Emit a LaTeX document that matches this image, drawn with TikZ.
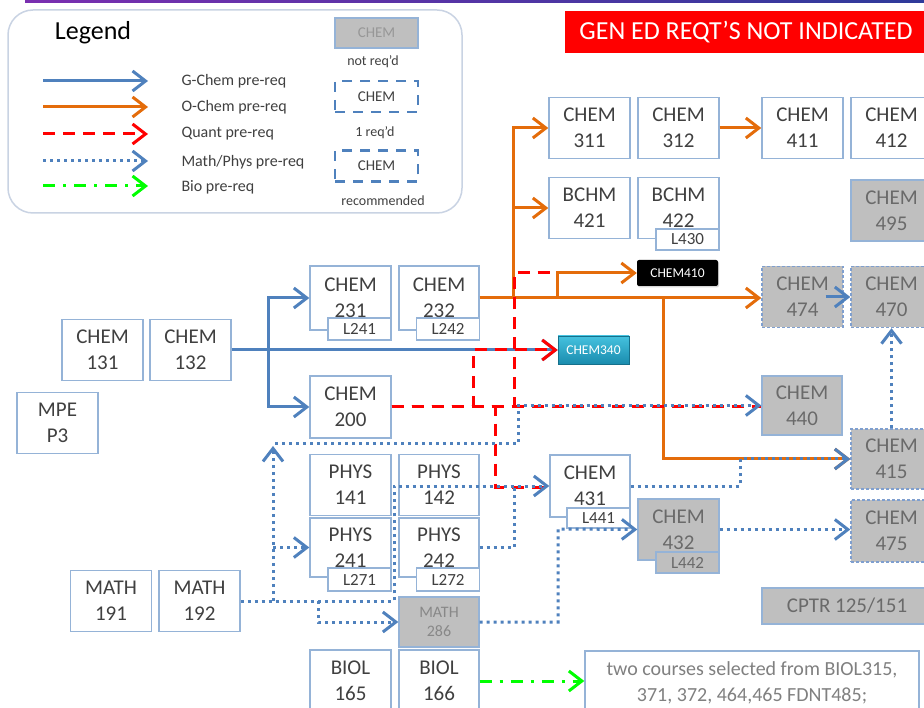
\documentclass[tikz,border=0pt]{standalone}
\usepackage{fontspec}
\setmainfont{Carlito}
\usetikzlibrary{arrows.meta,calc,shadows}
\definecolor{bluec}{HTML}{4F81BD}
\definecolor{boxb}{HTML}{95B3D7}
\definecolor{dashb}{HTML}{7F9FCF}
\definecolor{orangec}{HTML}{E46C0A}
\definecolor{txt}{HTML}{404040}
\definecolor{greyf}{HTML}{BFBFBF}
\definecolor{greyt}{HTML}{6A6A6A}
\definecolor{greenc}{HTML}{00FF00}
\definecolor{legb}{HTML}{C9D3E3}
\definecolor{tealA}{HTML}{45C2DF}
\definecolor{tealB}{HTML}{1A8CAE}
\definecolor{purpA}{HTML}{7A2FB0}
\definecolor{purpB}{HTML}{2E3A9A}
\tikzset{
  cbox/.style={draw=boxb, line width=1.4pt, fill=white, minimum width=81pt, minimum height=61pt,
    inner sep=0pt, align=center, text=txt, font=\fontsize{21}{26}\selectfont},
  gbox/.style={cbox, fill=greyf, text=greyt},
  gdbox/.style={gbox, draw=dashb, dash pattern=on 3pt off 2pt},
  gsub/.style={subbox, fill=greyf, text=greyt},
  subbox/.style={draw=boxb, line width=1.2pt, fill=white, minimum width=63pt, minimum height=22pt,
    inner sep=0pt, text=txt, font=\fontsize{17}{18}\selectfont},
  tip/.style={-{Straight Barb[length=13pt,width=20pt]}},
  gchem/.style={draw=bluec, line width=3pt},
  ochem/.style={draw=orangec, line width=3pt},
  quant/.style={draw=red, line width=3pt, dash pattern=on 12pt off 8pt},
  mphys/.style={draw=bluec, line width=3pt, dash pattern=on 3pt off 4pt},
  bio/.style={draw=greenc, line width=3pt, dash pattern=on 12pt off 8pt on 3pt off 8pt},
  legtxt/.style={anchor=west, text=txt, font=\fontsize{16}{18}\selectfont},
  smalltxt/.style={text=txt, font=\fontsize{14}{16}\selectfont},
  legdash/.style={draw=bluec, line width=2.5pt, dash pattern=on 10pt off 8pt, minimum width=83pt,
    minimum height=31pt, text=txt, font=\fontsize{15}{16}\selectfont},
}
\begin{document}
\begin{tikzpicture}[x=1pt,y=-1pt]
\useasboundingbox (0,0) rectangle (924,708);
\fill[white] (0,0) rectangle (924,708);
% top line
\shade[left color=purpA, right color=purpB] (25,0.3) rectangle (924,3);
% banner
\node[fill=red, text=white, font=\fontsize{26}{28}\selectfont, minimum width=362pt, minimum height=42pt, inner sep=0pt] (banner) at (746,32) {GEN ED REQT’S NOT INDICATED};
% legend
\node[draw=legb, line width=1.5pt, rounded corners=25pt, minimum width=454pt, minimum height=203pt] (legend) at (235,111.5) {};
\node[text=black, font=\fontsize{26}{28}\selectfont] (legt) at (93,33) {Legend};
\node[legtxt] (lt1) at (178,81) {G-Chem pre-req};
\node[legtxt] (lt2) at (178,107) {O-Chem pre-req};
\node[legtxt] (lt3) at (178,134) {Quant pre-req};
\node[legtxt] (lt4) at (178,162) {Math/Phys pre-req};
\node[legtxt] (lt5) at (178,187) {Bio pre-req};
\coordinate (la1) at (43,81);  \coordinate (lb1) at (148,81);
\coordinate (la2) at (43,107); \coordinate (lb2) at (148,107);
\coordinate (la3) at (43,134); \coordinate (lb3) at (148,134);
\coordinate (la4) at (43,161); \coordinate (lb4) at (148,161);
\coordinate (la5) at (43,186); \coordinate (lb5) at (148,186);
\draw[gchem,tip] (la1) -- (lb1);
\draw[ochem,tip] (la2) -- (lb2);
\draw[quant,tip] (la3) -- (lb3);
\draw[mphys,tip] (la4) -- (lb4);
\draw[bio,tip] (la5) -- (lb5);
\node[gbox, minimum width=83pt, minimum height=30pt, font=\fontsize{15}{16}\selectfont, text=greyt!70] (lg1) at (376.5,33) {CHEM};
\node[smalltxt] (lg1t) at (373,62) {not req’d};
\node[legdash] (lg2) at (376.5,96.5) {CHEM};
\node[smalltxt] (lg2t) at (375,133) {1 req’d};
\node[legdash] (lg3) at (376.5,166) {CHEM};
\node[smalltxt] (lg3t) at (383,201) {recommended};
% boxes left
\node[cbox] (c131) at (102.5,350) {CHEM\\131};
\node[cbox] (c132) at (190.5,350) {CHEM\\132};
\node[cbox] (mpe) at (57.5,423) {MPE\\P3};
\node[cbox] (m191) at (111,601) {MATH\\191};
\node[cbox] (m192) at (199.5,601) {MATH\\192};
% middle column
\node[cbox, minimum height=64pt] (c231) at (350.5,298) {CHEM\\231};
\node[cbox, minimum width=80pt, minimum height=64pt] (c232) at (439,298) {CHEM\\232};
\node[cbox, minimum height=62pt] (c200) at (350.5,407) {CHEM\\200};
\node[cbox] (p141) at (350.5,485) {PHYS\\141};
\node[cbox, minimum width=80pt] (p142) at (439,485) {PHYS\\142};
\node[cbox, minimum height=59pt] (p241) at (350.5,547.5) {PHYS\\241};
\node[cbox, minimum width=80pt, minimum height=59pt] (p242) at (439,547.5) {PHYS\\242};
\node[gbox, minimum width=80pt, minimum height=50pt, font=\fontsize{16}{19}\selectfont, text=greyt!80] (m286) at (439,622) {MATH\\286};
\node[cbox, minimum height=62pt] (b165) at (350.5,681) {BIOL\\165};
\node[cbox, minimum width=80pt, minimum height=62pt] (b166) at (439,681) {BIOL\\166};
% right area
\node[cbox] (c311) at (589.5,128) {CHEM\\311};
\node[cbox] (c312) at (678.5,128) {CHEM\\312};
\node[cbox] (c411) at (802.5,128) {CHEM\\411};
\node[cbox] (c412) at (891.5,128) {CHEM\\412};
\node[cbox] (b421) at (589.5,208) {BCHM\\421};
\node[cbox] (b422) at (678.5,208) {BCHM\\422};
\node[gbox] (c495) at (891.5,210.5) {CHEM\\495};
\node[gdbox] (c474) at (802.5,297) {CHEM\\474};
\node[gdbox] (c470) at (891.5,297) {CHEM\\470};
\node[gbox, minimum width=80pt, minimum height=59pt] (c440) at (802,405.5) {CHEM\\440};
\node[gdbox, minimum height=60pt] (c415) at (891.5,459) {CHEM\\415};
\node[cbox, minimum width=80pt, minimum height=62pt] (c431) at (590,486) {CHEM\\431};
\node[gbox] (c432) at (678.5,529.5) {CHEM\\432};
\node[gdbox, minimum height=62pt] (c475) at (891.5,531) {CHEM\\475};
\node[gbox, minimum width=170pt, minimum height=36pt, font=\fontsize{21}{22}\selectfont] (cptr) at (847,606) {CPTR 125/151};
\node[cbox, minimum width=334pt, minimum height=64pt, text=gray, font=\fontsize{20}{26}\selectfont] (two) at (752,683) {two courses selected from BIOL315,\\371, 372, 464,465 FDNT485;};
\node[draw=tealB!80!black, line width=0.6pt, top color=tealA, bottom color=tealB, text=white, minimum width=71pt, minimum height=28pt, inner sep=0pt, font=\fontsize{13.5}{14}\selectfont, drop shadow={opacity=0.25,shadow xshift=1pt,shadow yshift=-1.5pt}] (c340) at (593.5,350) {CHEM340};
\node[fill=black, rounded corners=2pt, text=white, minimum width=81pt, minimum height=26pt, inner sep=0pt, font=\fontsize{13.5}{14}\selectfont, drop shadow={opacity=0.3,shadow xshift=1pt,shadow yshift=-1.5pt}] (c410) at (677.5,273) {CHEM410};
% sub boxes
\node[subbox] (l241) at (359.5,329) {L241};
\node[subbox] (l242) at (448,329) {L242};
\node[subbox, minimum height=23pt] (l271) at (359.5,579.5) {L271};
\node[subbox, minimum height=23pt] (l272) at (448,579.5) {L272};
\node[subbox, minimum height=21pt] (l430) at (687.5,239.5) {L430};
\node[subbox, minimum height=20pt] (l441) at (598.5,518) {L441};
\node[gsub, minimum height=21pt] (l442) at (687.5,562.5) {L442};
% coordinates
\coordinate (g1) at (268,350);
\coordinate (o1) at (513,298);
\coordinate (o2) at (557,298);
\coordinate (o3) at (663,298);
\coordinate (q1) at (514,273);
\coordinate (q2) at (473,350);
\coordinate (q3) at (495,487);
\coordinate (d1) at (273,601);
\coordinate (d1t) at (273,446);
\coordinate (d2) at (394,486);
\coordinate (d3) at (275,444);
\coordinate (d4) at (518,444);
\coordinate (d5) at (318,601);
\coordinate (d6) at (514,486);
\coordinate (d7) at (558,529);
\coordinate (d8) at (740,459);
% G-Chem
\draw[gchem,tip] (c132.east) -- (c340.west);
\draw[gchem,tip] (g1) |- (c231.west);
\draw[gchem,tip] (g1) |- (c200.west);
\draw[gchem,tip] ([xshift=-18pt]c474.east) -- (c470.west);
% O-Chem
\draw[ochem,tip] (c232.east) -- (c232.east -| c474.west);
\draw[ochem,tip] (o1) |- (c311.west);
\draw[ochem,tip] (o1) |- (b421.west);
\draw[ochem,tip] (o2) |- (c410.west);
\draw[ochem,tip] (o3) |- (c415.west);
\draw[ochem,tip] (c312.east) -- (c411.west);
% Quant
\draw[quant] (c200.east) -| (q1) -- (q1 -| o2);
\draw[quant,tip] (c200.east) -| (q2) -- (c340.west);
\draw[quant] (c200.east) -| (q3) -- (q3 -| c431.west);
\draw[quant] (c200.east) -- (c200.east -| c440.west);
% Math/Phys
\draw[mphys,tip] (m192.east) -| (d2) -- (c431.west);
\draw[mphys,tip] (d1) -- (d1t);
\draw[mphys,tip] (d3) -- (d4) |- (c440.west);
\draw[mphys,tip] (p241.west -| d1) -- (p241.west);
\draw[mphys,tip] (d5) |- (m286.west);
\draw[mphys] (p242.east) -| (d6);
\draw[mphys,tip] (m286.east) -| (d7) -- (c432.west);
\draw[mphys,tip] (c431.east) -| (d8) -- (c415.west);
\draw[mphys,tip] (c432.east) -- (c432.east -| c475.west);
\draw[mphys,tip] (c415.north) -- (c470.south);
% Bio
\draw[bio,tip] (b166.east) -- (b166.east -| two.west);
\end{tikzpicture}
\end{document}
